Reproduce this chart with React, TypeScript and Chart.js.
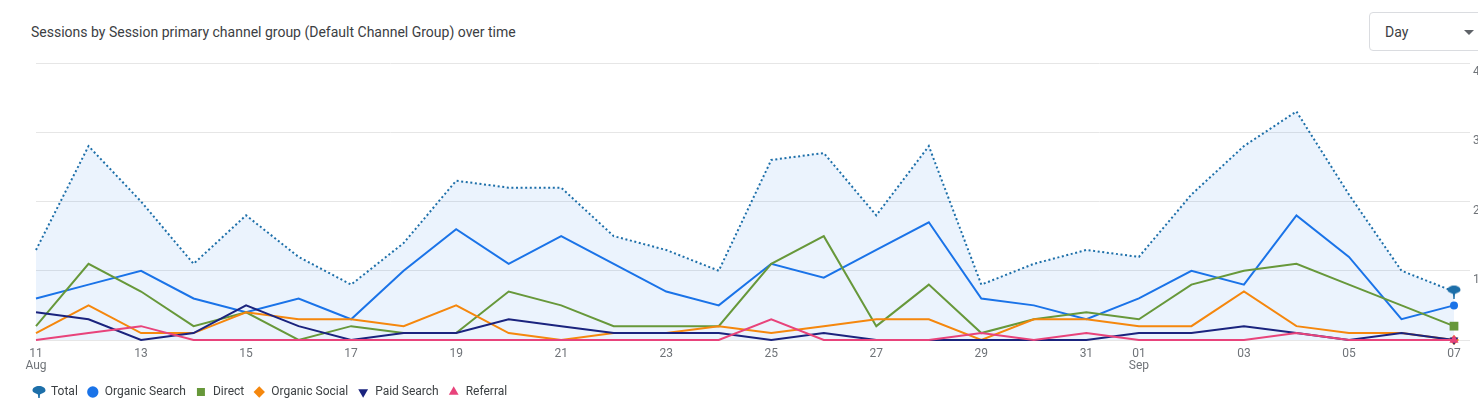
import React, { useEffect, useRef } from 'react';
import { Chart, registerables } from 'chart.js';

Chart.register(...registerables);

// ---- data ----
const categories = [
  '11 Aug', '12 Aug', '13 Aug', '14 Aug', '15 Aug', '16 Aug', '17 Aug', '18 Aug', '19 Aug', '20 Aug',
  '21 Aug', '22 Aug', '23 Aug', '24 Aug', '25 Aug', '26 Aug', '27 Aug', '28 Aug', '29 Aug', '30 Aug',
  '31 Aug', '01 Sep', '02 Sep', '03 Sep', '04 Sep', '05 Sep', '06 Sep', '07 Sep',
];
const totalSessions = [13, 28, 20, 11, 18, 12, 8, 14, 23, 22, 22, 15, 13, 10, 26, 27, 18, 28, 8, 11, 13, 12, 21, 28, 33, 21, 10, 7];
const organicSearch = [6, 8, 10, 6, 4, 6, 3, 10, 16, 11, 15, 11, 7, 5, 11, 9, 13, 17, 6, 5, 3, 6, 10, 8, 18, 12, 3, 5];
const direct = [2, 11, 7, 2, 4, 0, 2, 1, 1, 7, 5, 2, 2, 2, 11, 15, 2, 8, 1, 3, 4, 3, 8, 10, 11, 8, 5, 2];
const organicSocial = [1, 5, 1, 1, 4, 3, 3, 2, 5, 1, 0, 1, 1, 2, 1, 2, 3, 3, 0, 3, 3, 2, 2, 7, 2, 1, 1, 0];
const paidSearch = [4, 3, 0, 1, 5, 2, 0, 1, 1, 3, 2, 1, 1, 1, 0, 1, 0, 0, 0, 0, 0, 1, 1, 2, 1, 0, 1, 0];
const referral = [0, 1, 2, 0, 0, 0, 0, 0, 0, 0, 0, 0, 0, 0, 3, 0, 0, 0, 1, 0, 1, 0, 0, 0, 1, 0, 0, 0];
const yTicks = [0, 10, 20, 30, 40];
const seriesNames = ['Total', 'Organic Search', 'Direct', 'Organic Social', 'Paid Search', 'Referral'];

const COLORS = {
  total: '#1d6fa9',
  organicSearch: '#1a73e8',
  direct: '#67983a',
  organicSocial: '#f5870d',
  paidSearch: '#1a237e',
  referral: '#e8437b',
};

function makePin(color: string): HTMLCanvasElement {
  const c = document.createElement('canvas');
  c.width = 14;
  c.height = 14;
  const ctx = c.getContext('2d')!;
  ctx.fillStyle = color;
  ctx.beginPath();
  ctx.moveTo(0.5, 5.5);
  ctx.bezierCurveTo(0.5, -0.6, 13.5, -0.6, 13.5, 5.5);
  ctx.bezierCurveTo(13.5, 7.6, 9.2, 8.6, 7, 10.2);
  ctx.bezierCurveTo(4.8, 8.6, 0.5, 7.6, 0.5, 5.5);
  ctx.closePath();
  ctx.fill();
  ctx.beginPath();
  ctx.moveTo(5.9, 8);
  ctx.lineTo(8.1, 8);
  ctx.lineTo(7.7, 13.9);
  ctx.lineTo(6.3, 13.9);
  ctx.closePath();
  ctx.fill();
  return c;
}

const lastOnly = (arr: number[], r: number) => arr.map((_, i) => (i === arr.length - 1 ? r : 0));

export default function App() {
  const canvasRef = useRef<HTMLCanvasElement | null>(null);

  useEffect(() => {
    const canvas = canvasRef.current;
    if (!canvas) return;
    const pin = makePin(COLORS.total);

    const series = [
      { data: totalSessions, color: COLORS.total, style: pin as any, r: 7, rot: 0 },
      { data: organicSearch, color: COLORS.organicSearch, style: 'circle', r: 4, rot: 0 },
      { data: direct, color: COLORS.direct, style: 'rect', r: 6.2, rot: 0 },
      { data: organicSocial, color: COLORS.organicSocial, style: 'rectRot', r: 5, rot: 0 },
      { data: paidSearch, color: COLORS.paidSearch, style: 'triangle', r: 5, rot: 180 },
      { data: referral, color: COLORS.referral, style: 'triangle', r: 5.3, rot: 0 },
    ];

    const datasets = series.map((s, i) => ({
      label: seriesNames[i],
      data: s.data,
      borderColor: s.color,
      backgroundColor: i === 0 ? 'rgba(30, 120, 230, 0.09)' : s.color,
      fill: i === 0 ? 'origin' : false,
      borderWidth: 2,
      borderDash: i === 0 ? [2, 2.6] : [],
      tension: 0,
      pointStyle: s.style,
      pointRadius: lastOnly(s.data, s.r),
      pointHoverRadius: lastOnly(s.data, s.r),
      pointRotation: s.rot,
      pointBackgroundColor: s.color,
      pointBorderColor: s.color,
      pointBorderWidth: 0,
      clip: false as any,
      order: series.length - i,
    }));

    const chart = new Chart(canvas, {
      type: 'line',
      data: { labels: categories, datasets: datasets as any },
      options: {
        responsive: false,
        animation: false,
        layout: { padding: { left: 24, right: 0, top: 63, bottom: 2 } },
        font: { family: 'Roboto' } as any,
        plugins: {
          filler: { drawTime: 'beforeDatasetsDraw' } as any,
          tooltip: { enabled: false },
          title: { display: false },
          legend: {
            display: true,
            position: 'bottom',
            align: 'start',
            labels: {
              usePointStyle: true,
              boxWidth: 12,
              boxHeight: 8,
              padding: 9,
              color: '#3c4043',
              font: { family: 'Roboto', size: 12 },
              generateLabels: () =>
                series.map((s, i) => ({
                  text: seriesNames[i],
                  fillStyle: s.color,
                  strokeStyle: s.color,
                  lineWidth: 0,
                  pointStyle: s.style,
                  rotation: s.rot,
                  hidden: false,
                  datasetIndex: i,
                  fontColor: '#3c4043',
                })) as any,
            },
          },
        },
        scales: {
          x: {
            type: 'category',
            grid: { display: false },
            border: { display: false },
            ticks: {
              autoSkip: false,
              maxRotation: 0,
              minRotation: 0,
              padding: 0,
              color: '#6f7378',
              font: { family: 'Roboto', size: 12, lineHeight: 1 },
              callback: (_v: any, idx: number) => {
                const [day, mon] = categories[idx].split(' ');
                if (parseInt(day, 10) % 2 === 0) return '';
                if (idx === 0 || day === '01') return [day, mon];
                return day;
              },
            },
            afterFit: (s: any) => {
              s.height = 37;
              s.paddingLeft = 36;
            },
          },
          y: {
            position: 'right',
            min: yTicks[0],
            max: yTicks[yTicks.length - 1],
            grid: {
              color: '#e6e6e6',
              lineWidth: 1,
              drawTicks: true,
              tickLength: 16,
              tickColor: '#e6e6e6',
            },
            border: { display: false },
            ticks: {
              stepSize: 10,
              padding: 3,
              labelOffset: 9,
              color: '#6f7378',
              font: { family: 'Roboto', size: 12 },
              callback: (v: any) => (Number(v) === 0 ? '' : String(v)),
            },
            afterFit: (s: any) => {
              s.width = 56;
            },
          },
        },
      },
    });
    return () => chart.destroy();
  }, []);

  return (
    <div
      style={{
        position: 'fixed',
        left: 0,
        top: 0,
        width: 1478,
        height: 398,
        overflow: 'hidden',
        background: '#fff',
        fontFamily: 'Roboto, sans-serif',
      }}
    >
      <div
        style={{
          position: 'absolute',
          left: 31,
          top: 23,
          fontSize: 14,
          lineHeight: '18px',
          color: '#3c4043',
          whiteSpace: 'nowrap',
        }}
      >
        Sessions by Session primary channel group (Default Channel Group) over time
      </div>
      <div
        style={{
          position: 'absolute',
          left: 1369,
          top: 12,
          width: 140,
          height: 39,
          border: '1px solid #dadce0',
          borderRadius: 4,
          boxSizing: 'border-box',
        }}
      >
        <span
          style={{
            position: 'absolute',
            left: 15,
            top: 10,
            fontSize: 14,
            lineHeight: '18px',
            color: '#3c4043',
          }}
        >
          Day
        </span>
        <span
          style={{
            position: 'absolute',
            left: 94,
            top: 17,
            width: 0,
            height: 0,
            borderLeft: '5px solid transparent',
            borderRight: '5px solid transparent',
            borderTop: '5px solid #5f6368',
          }}
        />
      </div>
      <canvas
        ref={canvasRef}
        width={1510}
        height={410}
        style={{ position: 'absolute', left: 0, top: 0, width: 1510, height: 410 }}
      />
    </div>
  );
}
